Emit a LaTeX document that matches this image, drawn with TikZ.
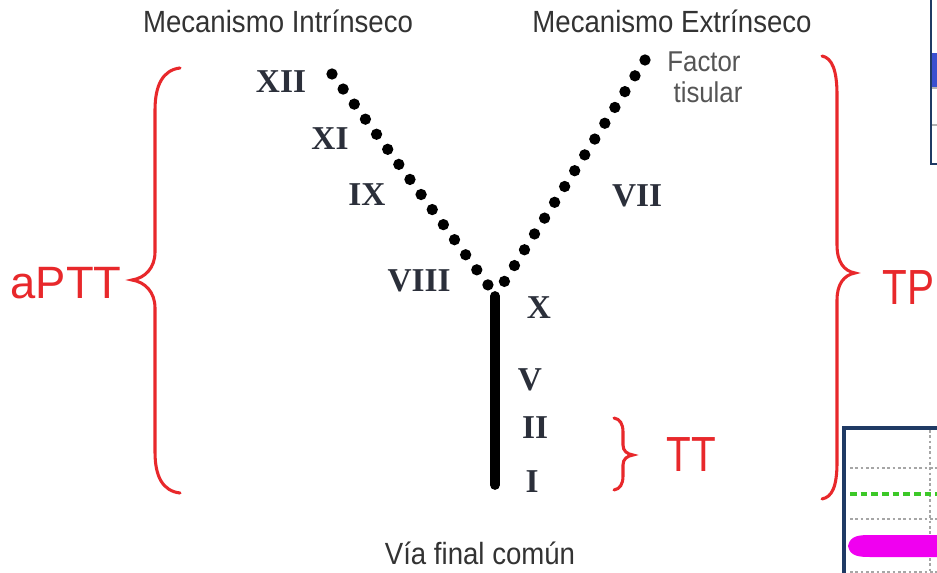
\documentclass[tikz,border=0pt]{standalone}
\usepackage{fontspec}
\setmainfont{Liberation Serif}
\newfontfamily\narrowsans[FakeStretch=0.9]{Liberation Sans}
\newfontfamily\plainsans{Liberation Sans}
\newfontfamily\tallsans[FakeStretch=0.82]{Liberation Sans}
\definecolor{txtgray}{HTML}{333333}
\definecolor{numgray}{HTML}{2B2F3A}
\definecolor{facgray}{HTML}{555555}
\definecolor{bred}{HTML}{E8282B}
\definecolor{navybox}{HTML}{1F3A64}
\definecolor{fillblue}{HTML}{3A4FD0}
\definecolor{blobmag}{RGB}{240,0,240}
\definecolor{dashgreen}{RGB}{60,200,40}
\tikzset{
  toplabel/.style={font=\narrowsans\fontsize{23}{27}\selectfont, text=txtgray, inner sep=0pt},
  faclabel/.style={font=\narrowsans\fontsize{21.5}{23.5}\selectfont, text=facgray, inner sep=0pt, align=center},
  numlabel/.style={font=\bfseries\fontsize{25}{28}\selectfont, text=numgray, inner sep=0pt},
  redlabel/.style={font=\plainsans\fontsize{34}{36}\selectfont, text=bred, inner sep=0pt},
  tallred/.style={font=\tallsans\fontsize{37}{40}\selectfont, text=bred, inner sep=0pt},
  bracepath/.style={draw=bred, line width=2.3pt, line cap=round},
  dotline/.style={line width=8.5pt, line cap=round, dash pattern=on 0pt off 14.05pt},
  solidline/.style={line width=7.3pt, line cap=round}
}
\begin{document}
\begin{tikzpicture}[x=0.75pt,y=-0.75pt]
\useasboundingbox (0,0) rectangle (937,573);
\fill[white] (0,0) rectangle (937,573);

% top labels
\node[toplabel] (mi) at (278,21) {Mecanismo Intrínseco};
\node[toplabel] (me) at (672,21) {Mecanismo Extrínseco};
\node[faclabel] (ft) at (704,77) {Factor\\\hspace*{6pt}tisular};
\node[toplabel] (vf) at (480,553) {Vía final común};

% pathway lines
\coordinate (L) at (332,74);
\coordinate (LJ) at (488,285);
\coordinate (R) at (645,60);
\coordinate (RJ) at (504,282);
\coordinate (T) at (495,296);
\coordinate (B) at (495,485);
\draw[dotline] (L) -- (LJ);
\draw[dotline] (R) -- (RJ);
\draw[solidline] (T) -- (B);

% factor numerals
\node[numlabel] (n12) at (281,82) {XII};
\node[numlabel] (n11) at (330,139) {XI};
\node[numlabel] (n9) at (367,195) {IX};
\node[numlabel] (n8) at (419,281) {VIII};
\node[numlabel] (n7) at (637,196) {VII};
\node[numlabel] (n10) at (539,308) {X};
\node[numlabel] (n5) at (530,380) {V};
\node[numlabel] (n2) at (535,428) {II};
\node[numlabel] (n1) at (532,482) {I};

% braces
\draw[bracepath] (180,68) .. controls (163,70) and (155,85) .. (155,110) -- (155,252)
  .. controls (155,268) and (145,278) .. (132,280) .. controls (145,282) and (155,292) .. (155,308)
  -- (155,452) .. controls (155,477) and (163,491) .. (180,493);
\draw[bracepath] (822,56) .. controls (832,58) and (837,70) .. (837,95) -- (837,245)
  .. controls (837,262) and (844,271) .. (855,273) .. controls (844,275) and (837,284) .. (837,300)
  -- (837,462) .. controls (837,487) and (832,497) .. (822,499);
\draw[bracepath] (614,418) .. controls (620,419) and (623,424) .. (623,432) -- (623,445)
  .. controls (623,451) and (627,454) .. (633,455) .. controls (627,456) and (623,459) .. (623,465)
  -- (623,476) .. controls (623,484) and (620,489) .. (614,490);

\node[redlabel] (aptt) at (66,283) {aPTT};
\node[tallred, anchor=west] (tp) at (882,288) {TP};
\node[tallred] (tt) at (691,455) {TT};

% cropped neighbouring panels
\fill[fillblue] (932,53) rectangle (940,87);
\draw[gray!60, line width=1pt] (932,88) -- (940,88);
\draw[gray!60, line width=1pt] (932,125) -- (940,125);
\draw[navybox, line width=2.2pt] (931,-5) rectangle (950,164);

\draw[gray!70, line width=2pt, dash pattern=on 2pt off 2pt] (850,468) -- (940,468);
\draw[gray!70, line width=2pt, dash pattern=on 2pt off 2pt] (850,519) -- (940,519);
\draw[gray!70, line width=2pt, dash pattern=on 2pt off 2pt] (850,572) -- (940,572);
\draw[gray!70, line width=2pt, dash pattern=on 2pt off 2pt] (930,430) -- (930,575);
\draw[dashgreen, line width=2.5pt, dash pattern=on 5pt off 3pt] (850,494) -- (940,494);
\fill[blobmag] (848,546) .. controls (850,536) and (858,535) .. (870,535) -- (945,535) -- (945,557) -- (870,557) .. controls (858,557) and (850,556) .. (848,546);
\draw[navybox, line width=2.5pt] (844,428) rectangle (950,585);
\end{tikzpicture}
\end{document}
